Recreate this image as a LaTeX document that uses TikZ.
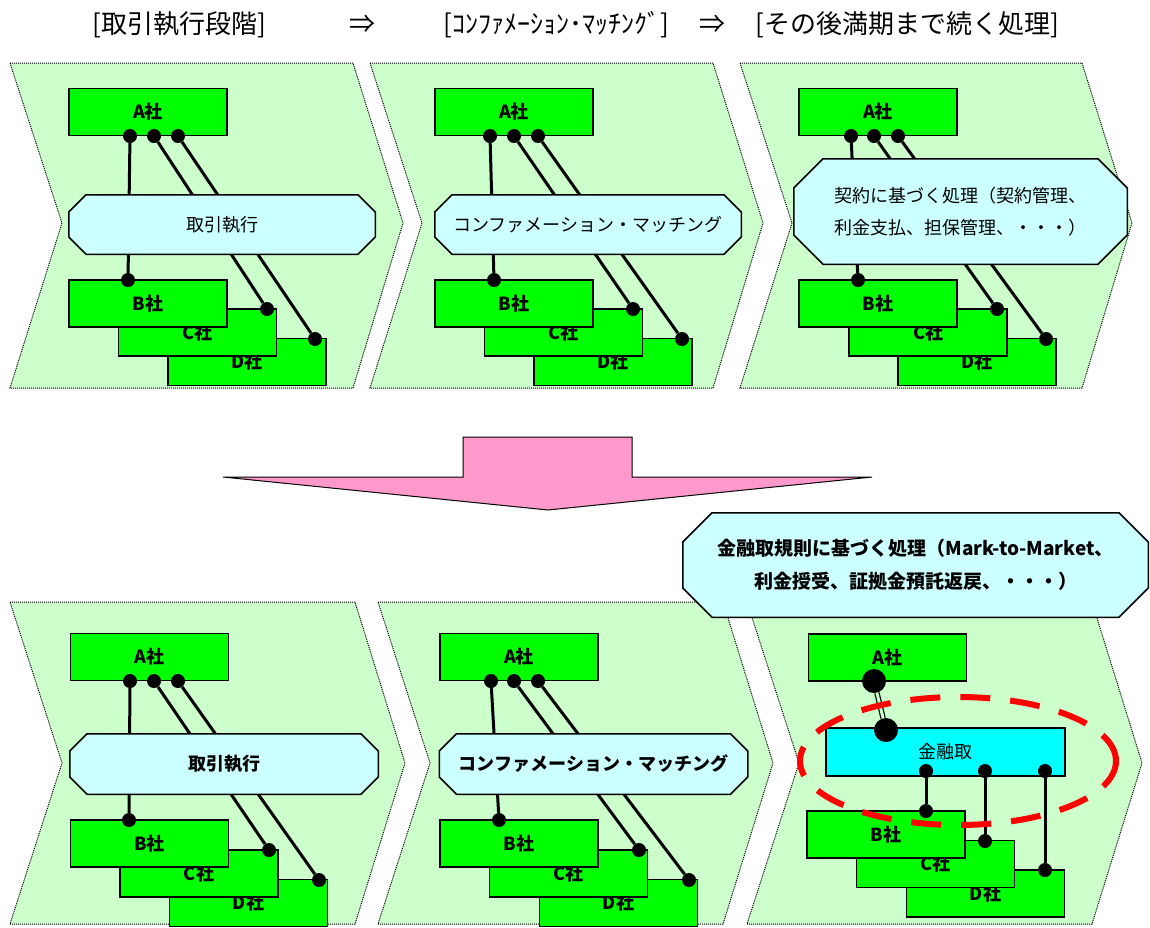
\documentclass[tikz,border=0pt]{standalone}
\usepackage{fontspec}
\setmainfont{Noto Sans CJK JP}
\usetikzlibrary{positioning}
\definecolor{PanelGreen}{RGB}{204,255,204}
\definecolor{FirmGreen}{RGB}{0,255,0}
\definecolor{PaleCyan}{RGB}{204,255,255}
\definecolor{ClearCyan}{RGB}{0,255,255}
\definecolor{ArrowPink}{RGB}{255,153,204}

\begin{document}
\begin{tikzpicture}[
          x=1pt, y=-1pt,
          stage/.style={fill=PanelGreen, draw=black, densely dotted, line width=1pt},
          firm/.style={rectangle, draw=black, fill=FirmGreen, line width=1.5pt, minimum width=158pt, minimum height=47pt, inner sep=0pt, font=\fontsize{18}{20}\selectfont\bfseries},
          octagon/.style={rectangle, draw=none, inner sep=0pt, align=center, path picture={
            \draw[line width=1.5pt, fill=PaleCyan]
              ([shift={(#1,-0.75pt)}]path picture bounding box.north west) -- ([shift={(-#1,-0.75pt)}]path picture bounding box.north east)
              -- ([shift={(-0.75pt,-#1)}]path picture bounding box.north east) -- ([shift={(-0.75pt,#1)}]path picture bounding box.south east)
              -- ([shift={(-#1,0.75pt)}]path picture bounding box.south east) -- ([shift={(#1,0.75pt)}]path picture bounding box.south west)
              -- ([shift={(0.75pt,#1)}]path picture bounding box.south west) -- ([shift={(0.75pt,-#1)}]path picture bounding box.north west) -- cycle;}},
          process/.style={octagon=18pt, minimum width=308pt, minimum height=61pt, font=\fontsize{18}{21}\selectfont},
          widebox/.style={octagon=30pt, minimum width=335pt, minimum height=107pt, font=\fontsize{18}{32}\selectfont},
          hub/.style={rectangle, draw=black, fill=ClearCyan, line width=1.5pt, minimum width=239pt, minimum height=48pt, inner sep=0pt, font=\fontsize{18}{21}\selectfont},
          dot/.style={circle, fill=black, inner sep=0pt, minimum size=14pt},
          bigdot/.style={circle, fill=black, inner sep=0pt, minimum size=24pt},
          link/.style={line width=3pt},
          heading/.style={inner sep=0pt, font=\fontsize{26}{30}\selectfont}
        ]
          \useasboundingbox (0,0) rectangle (1150,927);

          % headings
          \node (h1) [heading] at (179,25) {[取引執行段階]};
          \node (h2) [heading] at (362,24) {⇒};
          \node (h3) [heading] at (556,25) {[ｺﾝﾌｧﾒｰｼｮﾝ･ﾏｯﾁﾝｸﾞ]};
          \node (h4) [heading] at (712,24) {⇒};
          \node (h5) [heading] at (907,25) {[その後満期まで続く処理]};

          % upper stages
          \draw[stage] (10,63) -- (353,63) -- (403,223) -- (353,388) -- (10,388) -- (62,223) -- cycle;
          \draw[stage] (370,63) -- (713,63) -- (763,223) -- (713,388) -- (370,388) -- (422,223) -- cycle;
          \draw[stage] (740,63) -- (1082,63) -- (1132,223) -- (1082,388) -- (740,388) -- (792,223) -- cycle;

          % upper stage 1
          \node (d1) [firm] at (247,362) {D社};
          \node (c1) [firm] at (197.5,332.5) {C社};
          \node (b1) [firm] at (148,303.5) {B社};
          \node (a1) [firm] at (148,112) {A社};
          \node (a1p) [dot] at (130,136) {};
          \node (a1q) [dot] at (154,136) {};
          \node (a1r) [dot] at (178,136) {};
          \node (b1p) [dot] at (128,280) {};
          \node (c1p) [dot] at (267,309) {};
          \node (d1p) [dot] at (315,339) {};
          \draw[link] (a1p) -- (b1p);
          \draw[link] (a1q) -- (c1p);
          \draw[link] (a1r) -- (d1p);
          \node (exec1) [process] at (222,224.5) {取引執行};

          % upper stage 2
          \node (d2) [firm] at (613,362) {D社};
          \node (c2) [firm] at (563.5,332.5) {C社};
          \node (b2) [firm] at (514,303.5) {B社};
          \node (a2) [firm] at (514,112) {A社};
          \node (a2p) [dot] at (490,136) {};
          \node (a2q) [dot] at (514,136) {};
          \node (a2r) [dot] at (538,136) {};
          \node (b2p) [dot] at (494,280) {};
          \node (c2p) [dot] at (633,309) {};
          \node (d2p) [dot] at (682,339) {};
          \draw[link] (a2p) -- (b2p);
          \draw[link] (a2q) -- (c2p);
          \draw[link] (a2r) -- (d2p);
          \node (match2) [process] at (588,224.5) {コンファメーション・マッチング};

          % upper stage 3
          \node (d3) [firm] at (977,362) {D社};
          \node (c3) [firm] at (928,332.5) {C社};
          \node (b3) [firm] at (878,303.5) {B社};
          \node (a3) [firm] at (878,112) {A社};
          \node (a3p) [dot] at (851,136) {};
          \node (a3q) [dot] at (874,136) {};
          \node (a3r) [dot] at (898,136) {};
          \node (b3p) [dot] at (858,280) {};
          \node (c3p) [dot] at (997,309) {};
          \node (d3p) [dot] at (1046,339) {};
          \draw[link] (a3p) -- (b3p);
          \draw[link] (a3q) -- (c3p);
          \draw[link] (a3r) -- (d3p);
          \node (life3) [widebox] at (960.5,211.5) {契約に基づく処理（契約管理、\\利金支払、担保管理、・・・）};

          % big arrow
          \draw[fill=ArrowPink, line width=1pt] (463,437) -- (632,437) -- (632,477) -- (872,477) -- (548,510) -- (223,477) -- (463,477) -- cycle;

          % lower stages
          \draw[stage] (10,602) -- (355,602) -- (405,763) -- (355,924) -- (10,924) -- (62,763) -- cycle;
          \draw[stage] (378,602) -- (723,602) -- (773,763) -- (723,924) -- (378,924) -- (430,763) -- cycle;
          \draw[stage] (747,602) -- (1092,602) -- (1142,763) -- (1092,924) -- (747,924) -- (799,763) -- cycle;

          % lower stage 1
          \node (d4) [firm] at (248.5,903) {D社};
          \node (c4) [firm] at (199,873.5) {C社};
          \node (b4) [firm] at (149.5,843.5) {B社};
          \node (a4) [firm] at (149.5,657) {A社};
          \node (a4p) [dot] at (130,681) {};
          \node (a4q) [dot] at (154,681) {};
          \node (a4r) [dot] at (178,681) {};
          \node (b4p) [dot] at (129,820) {};
          \node (c4p) [dot] at (269,850) {};
          \node (d4p) [dot] at (319,880) {};
          \draw[link] (a4p) -- (b4p);
          \draw[link] (a4q) -- (c4p);
          \draw[link] (a4r) -- (d4p);
          \node (exec4) [process, minimum width=310pt, minimum height=62pt, font=\fontsize{18}{21}\selectfont\bfseries] at (224,764) {取引執行};

          % lower stage 2
          \node (d5) [firm] at (618.5,903) {D社};
          \node (c5) [firm] at (568.5,873.5) {C社};
          \node (b5) [firm] at (519,843.5) {B社};
          \node (a5) [firm] at (519,657) {A社};
          \node (a5p) [dot] at (491,681) {};
          \node (a5q) [dot] at (514,681) {};
          \node (a5r) [dot] at (538,681) {};
          \node (b5p) [dot] at (499,820) {};
          \node (c5p) [dot] at (639,850) {};
          \node (d5p) [dot] at (689,880) {};
          \draw[link] (a5p) -- (b5p);
          \draw[link] (a5q) -- (c5p);
          \draw[link] (a5r) -- (d5p);
          \node (match5) [process, minimum width=310pt, minimum height=62pt, font=\fontsize{18}{21}\selectfont\bfseries] at (593.5,764) {コンファメーション・マッチング};

          % lower stage 3: clearing house
          \node (d6) [firm] at (985.5,893.5) {D社};
          \node (c6) [firm] at (935.5,864) {C社};
          \node (b6) [firm] at (886,834.5) {B社};
          \node (a6) [firm] at (887.5,657.5) {A社};
          \node (ccp) [hub] at (945.5,752) {金融取};
          \node (a6p) [bigdot] at (874,681) {};
          \node (ccpa) [bigdot] at (886,730) {};
          \node (ccpb) [dot] at (926,771) {};
          \node (ccpc) [dot] at (985,771) {};
          \node (ccpd) [dot] at (1045,771) {};
          \node (b6p) [dot] at (926,811) {};
          \node (c6p) [dot] at (985,841) {};
          \node (d6p) [dot] at (1045,870) {};
          \draw[line width=1.2pt, double=PanelGreen, double distance=3pt] (a6p) -- (ccpa);
          \draw[link] (ccpb) -- (b6p);
          \draw[link] (ccpc) -- (c6p);
          \draw[link] (ccpd) -- (d6p);
          \draw[red, line width=6pt, dash pattern=on 30pt off 20pt] (958,761) ellipse [x radius=158pt, y radius=64pt];

          % rules callout
          \node (rules) [widebox, minimum width=467pt, minimum height=106pt, font=\fontsize{19}{33}\selectfont\bfseries] at (915.5,565) {金融取規則に基づく処理（Mark-to-Market、\\利金授受、証拠金預託返戻、・・・）};
        \end{tikzpicture}
\end{document}
